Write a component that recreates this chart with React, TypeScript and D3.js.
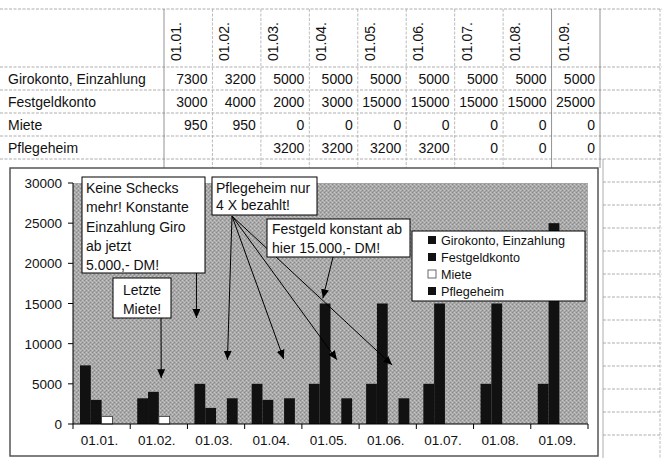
import React from "react";
import * as d3 from "d3";

const categories = ["01.01.", "01.02.", "01.03.", "01.04.", "01.05.", "01.06.", "01.07.", "01.08.", "01.09."];
const seriesNames = ["Girokonto, Einzahlung", "Festgeldkonto", "Miete", "Pflegeheim"];
const giro: (number | null)[] = [7300, 3200, 5000, 5000, 5000, 5000, 5000, 5000, 5000];
const festgeld: (number | null)[] = [3000, 4000, 2000, 3000, 15000, 15000, 15000, 15000, 25000];
const miete: (number | null)[] = [950, 950, 0, 0, 0, 0, 0, 0, 0];
const pflegeheim: (number | null)[] = [null, null, 3200, 3200, 3200, 3200, 0, 0, 0];
const yTicks = [0, 5000, 10000, 15000, 20000, 25000, 30000];

const seriesValues = [giro, festgeld, miete, pflegeheim];
const seriesFill = ["#111", "#111", "#fff", "#111"];

const FONT = "'Liberation Sans', Arial, sans-serif";

export default function App() {
  const x0 = d3.scaleBand<string>().domain(categories).range([73, 588]);
  const x1 = d3.scaleBand<string>().domain(seriesNames).range([7, x0.bandwidth() - 7]);
  const y = d3.scaleLinear().domain([0, 30000]).range([424, 183]);
  const tableX = d3.scaleBand<string>().domain(categories).range([164, 600]);
  const rowY = d3.scaleBand<string>().domain(seriesNames).range([67, 159]);

  const gridLines: number[] = [9, 67, 90, 113, 136, 159];
  const rightGrid: number[] = d3.range(182, 458, 23);
  const colEdges = [164, ...categories.map((c) => (tableX(c) as number) + tableX.bandwidth())];

  const pflegeTips = [
    { cat: "01.03.", dx: 40, v: 8000 },
    { cat: "01.04.", dx: 39, v: 8100 },
    { cat: "01.05.", dx: 35, v: 8000 },
    { cat: "01.06.", dx: 33, v: 7350 },
  ];

  return (
    <svg width={662} height={458} style={{ position: "absolute", left: 0, top: 0, background: "#fff" }} fontFamily={FONT}>
      <defs>
        <pattern id="speck" width="4" height="4" patternUnits="userSpaceOnUse">
          <rect width="4" height="4" fill="#a9a9a9" />
          <rect x="0" y="0" width="1" height="1" fill="#8a8a8a" />
          <rect x="2" y="2" width="1" height="1" fill="#8a8a8a" />
          <rect x="2" y="0" width="1" height="1" fill="#c6c6c6" />
          <rect x="0" y="2" width="1" height="1" fill="#c6c6c6" />
          <rect x="1" y="3" width="1" height="1" fill="#999" />
          <rect x="3" y="1" width="1" height="1" fill="#b8b8b8" />
        </pattern>
        <marker id="arr" markerUnits="userSpaceOnUse" markerWidth="10" markerHeight="8" refX="9" refY="4" orient="auto">
          <path d="M0,0 L9,4 L0,8 z" fill="#000" />
        </marker>
      </defs>

      {/* table grid */}
      {gridLines.map((gy) => (
        <line key={"h" + gy} x1={0} x2={662} y1={gy} y2={gy} stroke="#9a9a9a" strokeWidth={0.8} strokeDasharray="3,1.5" />
      ))}
      {colEdges.map((cx, i) => (
        <line key={"v" + i} x1={cx} x2={cx} y1={9} y2={168} stroke={i === 0 || i === 8 || i === 9 ? "#777" : "#aaa"} strokeWidth={0.8} strokeDasharray={i === 0 || i === 8 || i === 9 ? undefined : "3,1.5"} />
      ))}
      {rightGrid.map((gy) => (
        <line key={"r" + gy} x1={603} x2={662} y1={gy} y2={gy} stroke="#9a9a9a" strokeWidth={0.8} strokeDasharray="3,1.5" />
      ))}
      <line x1={603} x2={603} y1={159} y2={458} stroke="#999" strokeWidth={0.8} />
      <line x1={660} x2={660} y1={9} y2={458} stroke="#aaa" strokeWidth={0.8} strokeDasharray="3,1.5" />

      {/* header labels */}
      {categories.map((c) => {
        const cx = (tableX(c) as number) + 17;
        return (
          <text key={"hd" + c} transform={`translate(${cx},61) rotate(-90)`} fontSize={14} fill="#111">
            {c}
          </text>
        );
      })}
      {/* rows */}
      {seriesNames.map((s, si) => {
        const ry = (rowY(s) as number) + 17;
        return (
          <g key={"row" + s}>
            <text x={8} y={ry} fontSize={14} fill="#111">{s}</text>
            {categories.map((c, ci) => {
              const v = seriesValues[si][ci];
              if (v === null) return null;
              return (
                <text key={c} x={(tableX(c) as number) + tableX.bandwidth() - 5} y={ry} fontSize={14} textAnchor="end" fill="#111">
                  {v}
                </text>
              );
            })}
          </g>
        );
      })}

      {/* chart object */}
      <rect x={10} y={168} width={588} height={288} fill="#fff" stroke="#555" strokeWidth={1.5} />
      <rect x={73} y={183} width={515} height={241} fill="url(#speck)" />

      {/* bars */}
      {seriesNames.map((s, si) => (
        <g key={"bars" + s}>
          {categories.map((c, ci) => {
            const v = seriesValues[si][ci];
            if (v === null || v === 0) return null;
            const bx = (x0(c) as number) + (x1(s) as number);
            return (
              <rect
                key={c}
                x={bx}
                y={y(v)}
                width={x1.bandwidth()}
                height={y(0) - y(v)}
                fill={seriesFill[si]}
                stroke={si === 2 ? "#333" : "none"}
                strokeWidth={0.8}
              />
            );
          })}
        </g>
      ))}

      {/* axes */}
      <line x1={73} x2={73} y1={183} y2={424} stroke="#000" strokeWidth={1} />
      {yTicks.map((t) => (
        <g key={"yt" + t}>
          <line x1={68} x2={73} y1={y(t)} y2={y(t)} stroke="#000" />
          <text x={62} y={y(t) + 5} fontSize={13.5} textAnchor="end" fill="#111">{t}</text>
        </g>
      ))}
      <line x1={73} x2={588} y1={424} y2={424} stroke="#000" strokeWidth={1} />
      {categories.map((c) => (
        <g key={"xt" + c}>
          <line x1={(x0(c) as number) + x0.bandwidth()} x2={(x0(c) as number) + x0.bandwidth()} y1={424} y2={429} stroke="#000" />
          <text x={(x0(c) as number) + x0.bandwidth() / 2 - 2} y={445} fontSize={13.5} textAnchor="middle" fill="#111">{c}</text>
        </g>
      ))}
      <line x1={73} x2={73} y1={424} y2={429} stroke="#000" />

      {/* legend */}
      <rect x={412} y={231} width={173} height={70} fill="#fff" stroke="#000" strokeWidth={1} />
      {seriesNames.map((s, i) => (
        <g key={"lg" + s}>
          <rect x={428} y={236 + i * 17} width={8} height={8} fill={seriesFill[i]} stroke={i === 2 ? "#444" : "none"} strokeWidth={0.8} />
          <text x={441} y={245 + i * 17} fontSize={12.6} fill="#111">{s}</text>
        </g>
      ))}

      {/* annotations */}
      <rect x={82} y={177} width={123} height={96} fill="#fff" stroke="#000" strokeWidth={1} />
      {["Keine Schecks", "mehr! Konstante", "Einzahlung Giro", "ab jetzt", "5.000,- DM!"].map((t, i) => (
        <text key={"a" + i} x={86} y={193 + i * 19.3} fontSize={14} fill="#111">{t}</text>
      ))}
      <line x1={x0("01.03.")! + 9} x2={x0("01.03.")! + 9} y1={273} y2={y(13200)} stroke="#000" markerEnd="url(#arr)" />

      <rect x={113} y={278} width={58} height={40} fill="#fff" stroke="#000" strokeWidth={1} />
      <text x={142} y={295} fontSize={14} textAnchor="middle" fill="#111">Letzte</text>
      <text x={142} y={314} fontSize={14} textAnchor="middle" fill="#111">Miete!</text>
      <line x1={161} x2={x0("01.02.")! + 31} y1={318} y2={y(5700)} stroke="#000" markerEnd="url(#arr)" />

      {pflegeTips.map((p, i) => (
        <line key={"pt" + i} x1={232} y1={216} x2={x0(p.cat)! + p.dx} y2={y(p.v)} stroke="#000" strokeWidth={1} markerEnd="url(#arr)" />
      ))}
      <rect x={212} y={177} width={105} height={38} fill="#fff" stroke="#000" strokeWidth={1} />
      <text x={216} y={193} fontSize={14} fill="#111">Pflegeheim nur</text>
      <text x={216} y={210} fontSize={14} fill="#111">4 X bezahlt!</text>

      <line x1={333} y1={257} x2={x0("01.05.")! + 21} y2={y(15650)} stroke="#000" strokeWidth={1} markerEnd="url(#arr)" />
      <rect x={267} y={219} width={143} height={38} fill="#fff" stroke="#000" strokeWidth={1} />
      <text x={272} y={234} fontSize={14} fill="#111">Festgeld konstant ab</text>
      <text x={272} y={253} fontSize={14} fill="#111">hier 15.000,- DM!</text>
    </svg>
  );
}
